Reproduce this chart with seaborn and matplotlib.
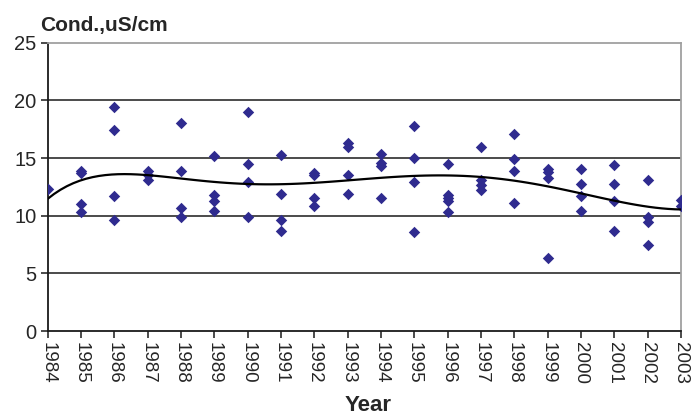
import numpy as np
import pandas as pd
import matplotlib
matplotlib.use("Agg")
import matplotlib.pyplot as plt
import seaborn as sns

# Conductivity samples per year (uS/cm)
years = list(range(1984, 2004))
cond_1984 = [12.3]
cond_1985 = [13.9, 13.7, 11.0, 10.3]
cond_1986 = [19.4, 17.4, 11.75, 9.6]
cond_1987 = [13.9, 13.5, 13.1]
cond_1988 = [18.0, 13.9, 10.7, 9.9]
cond_1989 = [15.15, 11.8, 11.3, 10.4]
cond_1990 = [19.0, 14.5, 12.9, 9.9]
cond_1991 = [15.3, 11.9, 9.6, 8.7]
cond_1992 = [13.7, 13.5, 11.5, 10.8]
cond_1993 = [16.3, 16.0, 13.5, 11.9]
cond_1994 = [15.35, 14.6, 14.35, 11.55]
cond_1995 = [17.75, 15.0, 12.9, 8.6]
cond_1996 = [14.5, 11.8, 11.5, 11.3, 10.3]
cond_1997 = [16.0, 13.1, 12.7, 12.2]
cond_1998 = [17.1, 14.9, 13.9, 11.1]
cond_1999 = [14.05, 13.75, 13.3, 6.3]
cond_2000 = [14.05, 12.75, 11.75, 10.45]
cond_2001 = [14.4, 12.75, 11.3, 8.65]
cond_2002 = [13.1, 9.9, 9.45, 7.5]
cond_2003 = [11.4, 10.8]

samples = [cond_1984, cond_1985, cond_1986, cond_1987, cond_1988, cond_1989,
           cond_1990, cond_1991, cond_1992, cond_1993, cond_1994, cond_1995,
           cond_1996, cond_1997, cond_1998, cond_1999, cond_2000, cond_2001,
           cond_2002, cond_2003]

rows = [(yr, v) for yr, vals in zip(years, samples) for v in vals]
df = pd.DataFrame(rows, columns=["Year", "Cond"])
# elapsed years keep the polynomial trend well conditioned
df["t"] = df["Year"] - years[0]

sns.set_theme(style="white")
plt.rcParams["font.family"] = ["Liberation Sans", "DejaVu Sans"]

fig = plt.figure(figsize=(6.91, 4.19), dpi=100)
ax = fig.add_axes([0.069, 0.210, 0.9165, 0.688])

# horizontal gridlines
for yv in [5, 10, 15, 20]:
    ax.axhline(yv, color="#1a1a1a", lw=1.1, zorder=1)

sns.scatterplot(data=df, x="t", y="Cond", marker="D", s=34, color="#2f2b8f",
                linewidth=0, ax=ax, zorder=3)
sns.regplot(data=df, x="t", y="Cond", order=6, ci=None, scatter=False,
            truncate=True, line_kws=dict(color="black", lw=1.6, zorder=4), ax=ax)

ax.set_xlim(0, len(years) - 1)
ax.set_ylim(0, 25)
ax.set_xticks(range(len(years)))
ax.set_xticklabels([str(y) for y in years], rotation=-90, fontsize=13.5)
ax.set_yticks([0, 5, 10, 15, 20, 25])
ax.set_yticklabels(["0", "5", "10", "15", "20", "25"], fontsize=14.5)
ax.tick_params(axis="both", which="major", direction="out", length=5, width=1.1,
               color="#1a1a1a", bottom=True, left=True, pad=3)
ax.set_xlabel("")
ax.set_ylabel("")

for side in ["left", "bottom"]:
    ax.spines[side].set_color("#1a1a1a")
    ax.spines[side].set_linewidth(1.3)
for side in ["top", "right"]:
    ax.spines[side].set_color("#a0a0a0")
    ax.spines[side].set_linewidth(1.3)

fig.text(0.058, 0.925, "Cond.,uS/cm", fontsize=15, fontweight="bold",
         ha="left", va="baseline")
fig.text(0.532, 0.008, "Year", fontsize=16, fontweight="bold",
         ha="center", va="bottom")

fig.savefig("out.png", dpi=100)
